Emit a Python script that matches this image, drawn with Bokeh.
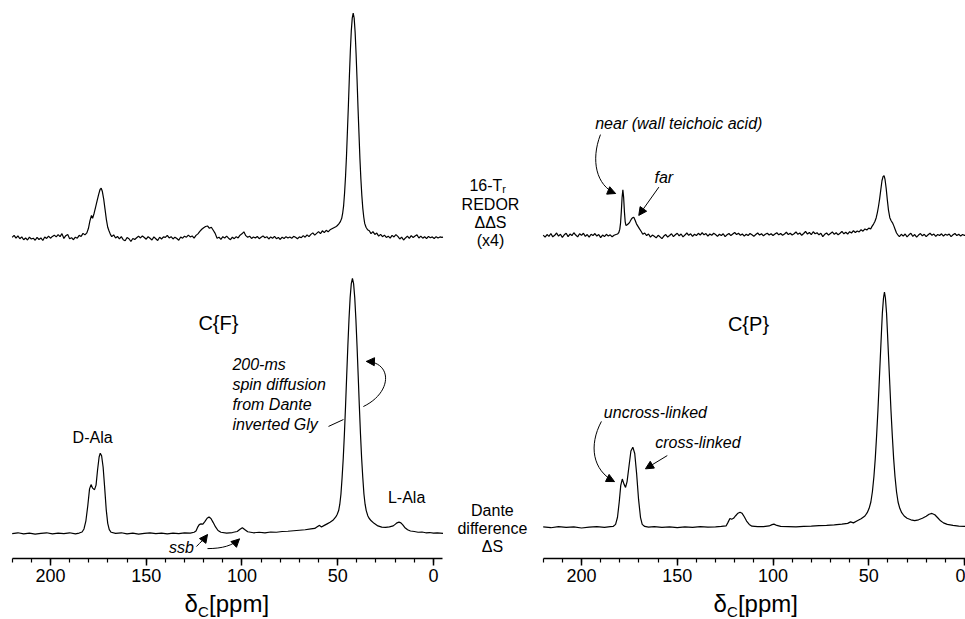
from bokeh.plotting import figure
from bokeh.models import Range1d, FixedTicker, Label, Arrow, NormalHead
from bokeh.layouts import row
from bokeh.embed import file_html
from bokeh.resources import INLINE

# ---------------- data ----------------
# x: chemical shift (ppm); y: intensity (Gly peak of left Dante spectrum = 100)

# C{F}, 16-Tr REDOR difference (x4)
lt_ppm = [220, 219, 218, 217, 216, 215, 214, 213, 212, 211, 210, 209, 208, 207, 206, 205, 204, 203, 202, 201,
          200, 199, 198, 197, 196, 195, 194, 193, 192, 191, 190, 189, 188, 187, 186, 185, 184, 183, 182,
          181, 180.2, 179.4, 178.6, 178.0, 177.2, 176.4, 175.6, 174.8, 174.1, 173.5, 172.9, 172.2, 171.5, 170.8,
          170.1, 169.4, 168.7,
          168, 167, 166, 165, 164, 163, 162, 161, 160, 159, 158, 157, 156, 155, 154, 153, 152, 151, 150, 149,
          148, 147, 146, 145, 144, 143, 142, 141, 140, 139, 138, 137, 136, 135, 134, 133, 132, 131, 130, 129,
          128, 127, 126, 125,
          124, 123, 122, 121, 120, 119, 118, 117, 116, 115, 114, 113, 112, 111, 110, 109, 108, 107, 106, 105,
          104, 103, 102, 101, 100, 99, 98, 97, 96, 95, 94, 93, 92, 91, 90, 89, 88, 87, 86, 85, 84, 83, 82, 81,
          80, 79, 78, 77, 76, 75, 74, 73, 72, 71, 70, 69, 68, 67, 66, 65, 64, 63, 62, 61, 60, 59, 58, 57, 56,
          55, 54, 53, 52, 51,
          50.3, 49.5, 48.6, 47.9, 47.4, 46.9, 46.4, 45.9, 45.4, 44.9, 44.4, 43.9, 43.4, 42.9, 42.4, 41.9, 41.4,
          40.9, 40.4, 39.9, 39.4, 38.9, 38.4, 37.9, 37.4, 36.9, 36.4, 35.9, 35.2, 34.4, 33.5, 32.6,
          31.6, 30.6, 29.6, 28.6, 27.6, 26.6, 25.6, 24.6, 23.6, 22.6, 21.6, 20.6, 19.6, 18.6, 17.6, 16.6, 15.6,
          14.6, 13.6, 12.6, 11.6, 10.6, 9.6, 8.6, 7.6, 6.6, 5.6, 4.6, 3.6, 2.6, 1.6, 0.6, -0.4, -1.4, -2.4,
          -3.4, -4.4, -5]
lt_int = [0.0, 0.8, -0.3, 0.6, -0.5, 0.2, -0.9, -0.2, -1.0, 0.1, -0.6, -0.3, -1.1, 0.0, -0.8, -0.2, -1.2, 0.2, -0.4, 0.5,
          -0.3, 0.4, 0.9, 0.2, 1.1, 0.3, 1.5, -0.4, 0.7, 1.2, -0.5, -0.1, -0.9, 0.1, -0.3, 0.8, 0.4, 1.6, 1.0,
          1.8, 3.5, 6.5, 8.6, 7.5, 9.5, 12, 14.5, 17, 18.8, 19.3, 18, 15, 11, 7,
          4, 2.5, 1.2,
          0.3, 1.0, -0.2, 0.4, -0.6, 0.3, -0.9, -1.3, 0.0, -0.5, -1.6, -0.4, -0.8, -0.1, 0.5, -0.2, 0.6, 0.0, -0.7, 0.3,
          -0.3, -1.0, 0.2, -0.5, -1.2, 0.1, -0.6, 0.2, 0.0, 0.8, -0.2, 0.3, -0.6, 0.1, -0.4, -1.1, 0.2, -0.3, 0.5, 0.1,
          0.9, 0.2, 0.6, -0.3,
          0.8, 1.4, 2.4, 3.2, 3.8, 4.3, 4.5, 3.6, 4.0, 2.8, 1.6, -0.3, 0.1, -0.8, 0.3, -0.2, 0.5, -0.3, -0.9, 0.1,
          -0.5, 0.3, -0.2, 0.9, 1.4, 2.2, 0.7, 0.1, 0.5, -0.4, 0.2, -0.2, 0.4, -0.5, 0.1, 0.6, -0.1, 0.3, -0.6, 0.2, -0.3, 0.4, -0.5, 0.0,
          -0.8, 0.1, -0.4, 0.3, -0.2, 0.2, -0.3, 0.4, 0.1, -0.5, 0.2, -0.1, 0.7, 0.1, 1.0, 0.3, 1.2, 1.8, 0.9, 1.6, 2.3, 1.5, 2.6, 1.9, 2.8,
          2.2, 3.0, 3.4, 3.8, 4.2,
          4.6, 5.2, 6.2, 7.5, 9.5, 12.5, 17.5, 24, 32, 42, 52, 63, 73, 81, 86, 88, 86,
          80.5, 72, 62, 51, 41, 31, 23, 16.5, 11.5, 8, 5.5, 4, 3, 2.6, 1.5,
          2.3, 1.2, 1.7, 0.5, 1.2, 0.3, 0.9, 0.0, 0.5, -0.3, 0.8, 0.2, 1.1, 0.4, -0.6, 0.1, -1.0,
          -0.2, 0.5, -0.4, 0.7, 0.0, 0.6, 1.0, -0.2, 0.5, -0.3, 0.3, -0.5, 0.4, -0.1, 0.2, -0.4, 0.3, -0.2,
          0.2, 0.0, 0.1]

# C{F}, Dante difference
lb_ppm = [220, 217, 214, 211, 208, 205, 202, 199, 196, 193, 190, 187, 185, 183.5, 182.5, 181.5, 180.5, 179.6,
          178.8, 178.0, 177.0, 176.2, 175.4, 174.6, 174.0, 173.3, 172.5, 171.7, 170.9, 170.1, 169.3, 168.3,
          166, 163, 160, 157, 154, 151, 148, 145, 142, 139, 136, 133, 130, 127, 125, 124, 123.2, 122.3, 121.4,
          120.4, 119.3, 118.2, 117.2, 116.2, 115.0, 113.8, 112.5, 111, 108, 105, 102.5, 101, 99.8, 98.6, 97,
          94, 91, 88, 85, 82, 79, 76, 73, 70, 67, 64, 62, 60.5, 59.5, 58.5, 57, 55.5, 54, 52.5, 51.0, 50.3,
          49.5, 48.9, 48.3, 47.7, 47.1, 46.5, 45.9, 45.3, 44.7, 44.1, 43.5, 42.9, 42.3, 41.7, 41.1, 40.5,
          39.9, 39.3, 38.7, 38.1, 37.5, 36.9, 36.3, 35.7, 35.1, 34.3, 33.6, 32.5, 31, 29, 27, 25, 23, 21,
          20, 19, 18, 17, 16, 15, 13.5, 12, 10, 8, 6, 4, 2, 0, -2, -5]
lb_int = [0.0, 0.3, -0.1, 0.2, -0.2, 0.1, 0.3, -0.1, 0.2, 0.0, 0.3, -0.1, 0.2, 0.6, 1.8, 5, 11, 17.5,
          19.2, 17.8, 17.2, 19, 25, 30, 31.5, 30.5, 26, 18, 9.5, 4, 1.5, 0.5,
          0.1, 0.3, -0.1, 0.2, -0.2, 0.1, 0.3, 0.0, 0.2, -0.1, 0.2, 0.0, 0.3, 0.2, 0.5, 1.0, 2.4, 3.5, 3.8,
          3.7, 4.8, 6.0, 6.5, 5.9, 4.3, 2.6, 1.2, 0.5, 0.2, 0.4, 0.8, 1.7, 2.3, 1.6, 0.7,
          0.3, 0.5, 0.3, 0.6, 0.5, 0.8, 0.9, 1.1, 1.3, 1.5, 1.8, 2.0, 2.8, 3.2, 2.6, 3.2, 3.8, 4.4, 5.2, 6.5, 7.5,
          9, 11.5, 15.5, 22, 29.5, 39, 50, 62, 73.5, 84, 92.5, 98, 100, 98, 92.5, 84,
          73.5, 62, 50, 39, 29.5, 22, 15.5, 11.5, 9, 7, 6, 5, 4, 3, 2.5, 2.4, 2.6, 3.0,
          3.6, 4.2, 4.5, 4.2, 3.4, 2.4, 1.5, 1.0, 0.8, 0.5, 0.6, 0.3, 0.4, 0.2, 0.3, 0.1]

# C{P}, 16-Tr REDOR difference (x4)
rt_ppm = [220, 219, 218, 217, 216, 215, 214, 213, 212, 211, 210, 209, 208, 207, 206, 205, 204, 203, 202, 201,
          200, 199, 198, 197, 196, 195, 194, 193, 192, 191, 190, 189, 188, 187, 186, 185, 184, 183, 182,
          181.2, 180.5, 180.0, 179.6, 179.2, 178.8, 178.4, 178.0, 177.6, 177.2, 176.8, 176.2, 175.5, 174.8,
          174.0, 173.3, 172.7, 172.0, 171.3, 170.5, 169.7, 168.8, 168.0,
          167, 166, 165, 164, 163, 162, 161, 160, 159, 158, 157, 156, 155, 154, 153, 152, 151, 150, 149, 148,
          147, 146, 145, 144, 143, 142, 141, 140, 139, 138, 137, 136, 135, 134, 133, 132, 131, 130, 129, 128,
          127, 126, 125, 124, 123, 122, 121, 120, 119, 118, 117, 116, 115, 114, 113, 112, 111, 110, 109, 108,
          107, 106, 105, 104, 103, 102, 101, 100, 99, 98, 97, 96, 95, 94, 93, 92, 91, 90, 89, 88, 87, 86, 85,
          84, 83, 82, 81, 80, 79, 78, 77, 76, 75, 74, 73, 72, 71, 70, 69, 68, 67, 66, 65, 64, 63, 62, 61, 60,
          59, 58, 57, 56, 55, 54, 53, 52, 51, 50, 49,
          48.3, 47.5, 46.8, 46.1, 45.5, 44.9, 44.3, 43.7, 43.1, 42.5, 42.0, 41.5, 40.9, 40.3, 39.7, 39.0,
          38.3, 37.6, 36.9, 36.2, 35.5, 34.7,
          34, 33, 32, 31, 30, 29, 28, 27, 26, 25, 24, 23, 22, 21, 20, 19, 18, 17, 16, 15, 14, 13, 12, 11, 10,
          9, 8, 7, 6, 5, 4, 3, 2, 1, 0, -1, -2, -3, -4, -5]
rt_int = [0.2, -0.6, 0.4, -0.3, 0.8, -0.5, 0.1, 1.0, -0.2, 0.5, -0.7, 0.3, 0.9, -0.4, 0.6, 0.0, 1.1, 0.2, -0.5, 0.7,
          0.1, 0.9, -0.3, 0.4, -0.6, 0.5, 0.0, 0.8, -0.2, 0.4, -0.8, 0.2, -0.4, 0.5, -0.2, 0.3, -0.5, 0.1, 0.4,
          0.6, 1.2, 2.5, 5, 9.5, 15, 17.9, 15, 9.5, 5.5, 4.0, 4.2, 4.6, 5.3,
          6.4, 7.0, 7.2, 6.0, 4.6, 3.6, 2.6, 1.6, 0.5,
          1.0, 0.0, 0.6, -0.6, 0.2, -0.3, -0.9, 0.1, -0.5, -1.2, -0.2, 0.4, -0.6, 0.0, 0.7, -0.4, 0.3, 0.9, -0.1, 0.6,
          -0.5, 0.2, 1.0, 0.1, 0.7, -0.3, 0.5, 0.0, 0.9, 0.2, 1.1, 0.3, 0.8, -0.2, 0.6, 0.1, 0.9, 0.4, -0.3, 0.5,
          0.0, 0.7, -0.4, 0.3, 0.8, 0.0, 0.6, 1.2, 0.4, 0.9, 0.1, 0.6, -0.2, 0.5, 0.0, 0.8, 0.3, -0.3, 0.4, 1.0,
          0.2, 0.7, -0.1, 0.5, 0.9, 0.2, 0.7, 0.0, 0.6, 1.1, 0.3, 0.8, 0.1, 0.6, 1.3, 0.4, 0.9, 0.2, 0.7, 1.4, 0.5, 1.0, 0.1,
          0.8, 1.6, 0.6, 1.2, 0.4, 1.5, 0.7, 1.1, 0.3, 0.9, -0.4, 0.5, 1.0, 0.2, 0.8, 1.4, 0.5, 1.1, 0.3, 0.9, 1.6, 0.7, 1.3, 0.6, 1.5,
          1.0, 1.9, 1.2, 1.8, 1.4, 2.3, 1.7, 2.6, 2.2, 2.9, 2.6,
          3.6, 4.5, 5.5, 7.0, 9.0, 11.5, 14.5, 18, 21.5, 23.2, 23.5, 22, 18.5, 14, 10, 7,
          5.8, 5.0, 3.8, 2.4, 1.0, 0.2,
          -0.4, 0.5, -0.2, 0.6, -0.5, 0.3, 0.9, -0.3, 0.4, -0.6, 0.2, 0.8, -0.1, 0.5, -0.4, 0.3, 0.9, 0.1, 0.6, -0.3, 0.4, 0.0, 0.7, -0.2, 0.5,
          0.1, 0.6, -0.4, 0.3, 0.8, 0.0, 0.5, -0.2, 0.4, 0.0, 0.5, -0.3, 0.4, 0.1, 0.3]

# C{P}, Dante difference
rb_ppm = [220, 216, 212, 208, 204, 200, 196, 192, 188, 185, 183.5, 182.2, 181.2, 180.3, 179.5, 178.7, 177.8,
          177.0, 176.2, 175.2, 174.2, 173.2, 172.2, 171.2, 170.2, 169.2, 168.3, 167, 165, 162, 158, 154, 150,
          146, 142, 138, 134, 130, 127, 124.5, 123.5, 122.5, 121.6, 120.6, 119.5, 118.3, 117.2, 116.2, 115.0,
          113.8, 112.4, 111, 108, 105, 102, 100.5, 99.5, 98, 96, 92, 88, 84, 80, 76, 72, 68, 64, 61, 59.5, 58,
          56, 54, 52, 50.8, 49.8, 48.9, 48.1, 47.3, 46.6, 45.9, 45.2, 44.6, 44.0, 43.4, 42.9, 42.3, 41.8, 41.3,
          40.7, 40.2, 39.6, 39.0, 38.4, 37.7, 37.0, 36.3, 35.5, 34.7, 33.8, 32.8, 31.5, 30, 28, 26, 24, 22, 20,
          18.5, 17, 15.5, 14, 12.5, 11, 9, 6, 3, 0, -5]
rb_int = [0.2, -0.1, 0.3, 0.0, 0.2, -0.2, 0.1, 0.3, 0.0, 0.3, 0.4, 1.2, 4, 10, 16.5, 19, 17,
          15.7, 18, 24, 30, 31.5, 29, 21, 11, 4, 1.2, 0.4, 0.1, 0.3, 0.0, 0.2, -0.1,
          0.2, 0.0, 0.3, 0.1, 0.2, 0.4, 0.6, 2.0, 3.5, 3.2, 3.6, 4.6, 5.6, 6.0, 5.6, 4.2,
          2.5, 1.2, 0.5, 0.3, 0.3, 0.6, 1.1, 1.3, 0.8, 0.4, 0.3, 0.2, 0.4, 0.5, 0.7, 0.8, 1.0, 1.3, 1.6, 2.2, 1.8,
          2.6, 3.4, 4.5, 5.8, 7.5, 10, 14, 20, 27, 36, 46, 56, 66, 76, 84, 90, 92.3, 90,
          84, 76, 66, 56, 46, 36, 27, 20, 14, 10, 7.5, 5.8, 4.5, 3.6, 3.0, 2.7, 3.0, 3.6, 4.4,
          5.2, 5.5, 5.0, 3.8, 2.6, 1.8, 1.2, 0.8, 0.5, 0.4, 0.3]

major_ticks = [200, 150, 100, 50, 0]
minor_ticks = [220, 210, 200, 190, 180, 170, 160, 150, 140, 130, 120, 110, 100, 90, 80, 70, 60, 50, 40, 30, 20, 10, 0]
tick_labels = {200: "200", 150: "150", 100: "100", 50: "50", 0: "0"}

# ---------------- styling ----------------
FONT = "Liberation Sans"
TOP_OFFSET_L = 116.1
TOP_OFFSET_R = 114.5


def make_fig(width, x_range, y_range, axis_y, bounds):
    p = figure(width=width, height=619, x_range=x_range, y_range=y_range,
               output_backend="svg", toolbar_location=None, y_axis_location=None,
               min_border_left=0, min_border_right=0, min_border_top=0, min_border_bottom=0)
    p.grid.visible = False
    p.outline_line_color = None
    p.background_fill_color = "white"
    p.border_fill_color = "white"
    ax = p.xaxis[0]
    ax.fixed_location = axis_y
    ax.bounds = bounds
    ax.ticker = FixedTicker(ticks=major_ticks, minor_ticks=minor_ticks)
    ax.major_label_overrides = tick_labels
    ax.axis_line_width = 1.5
    ax.axis_line_color = "black"
    ax.major_tick_line_width = 1.5
    ax.major_tick_line_color = "black"
    ax.minor_tick_line_width = 1.2
    ax.minor_tick_line_color = "black"
    ax.major_tick_out = 7
    ax.major_tick_in = 0
    ax.minor_tick_out = 4
    ax.minor_tick_in = 0
    ax.major_label_text_font = FONT
    ax.major_label_text_font_size = "18px"
    ax.major_label_text_color = "black"
    ax.major_label_standoff = 3
    return p


def lab(p, x, y, text, size="16px", style="normal", align="center", baseline="middle"):
    p.add_layout(Label(x=x, y=y, text=text, text_font=FONT, text_font_size=size,
                       text_font_style=style, text_align=align, text_baseline=baseline,
                       text_color="black"))


def straight_arrow(p, xs, ys, xe, ye):
    p.add_layout(Arrow(x_start=xs, y_start=ys, x_end=xe, y_end=ye, line_width=1, line_color="black",
                       end=NormalHead(size=8, fill_color="black", line_color="black", line_width=1)))


def curved_arrow(p, s, c1, c2, e):
    p.bezier(x0=[s[0]], y0=[s[1]], x1=[e[0]], y1=[e[1]], cx0=[c1[0]], cy0=[c1[1]],
             cx1=[c2[0]], cy1=[c2[1]], line_color="black", line_width=1)
    p.add_layout(Arrow(x_start=c2[0], y_start=c2[1], x_end=e[0], y_end=e[1], line_alpha=0,
                       end=NormalHead(size=8, fill_color="black", line_color="black", line_width=1)))


def axis_title(p, xd, xc, xp, yb, yc):
    lab(p, xd, yb, "δ", size="24px", align="left", baseline="alphabetic")
    lab(p, xc, yc, "C", size="15px", align="left", baseline="alphabetic")
    lab(p, xp, yb, "[ppm]", size="24px", align="left", baseline="alphabetic")


# ---------------- left panel: C{F} ----------------
p1 = make_fig(535, Range1d(226.1, -53.3), Range1d(-33.7, 209.0), -9.8, (-4.7, 220))
p1.line(lt_ppm, [v + TOP_OFFSET_L for v in lt_int], line_color="black", line_width=1.2)
p1.line(lb_ppm, lb_int, line_color="black", line_width=1.2)

lab(p1, 112.3, 82.7, "C{F}", size="20px")
lab(p1, 178.0, 37.6, "D-Ala")
lab(p1, 14.0, 14.0, "L-Ala")
for yy, t in zip([66.3, 58.4, 50.6, 42.7], ["200-ms", "spin diffusion", "from Dante", "inverted Gly"]):
    lab(p1, 105.0, yy, t, style="italic", align="left")
p1.segment(x0=[54.8], y0=[42.0], x1=[47.0], y1=[44.7], line_color="black", line_width=1)
curved_arrow(p1, (36.6, 49.8), (21.4, 55.3), (21.4, 67.1), (35.0, 67.5))
lab(p1, 131.6, -5.5, "ssb", style="italic")
curved_arrow(p1, (123.8, -5.1), (121.7, -3.5), (119.6, -2.0), (118.0, -0.4))
curved_arrow(p1, (118.0, -5.9), (110.2, -5.9), (104.9, -4.7), (101.3, -2.1))

# centre labels (between panels)
lab(p1, -36.0, 136.5, "16-T", align="right")
lab(p1, -36.0, 134.9, "r", size="11px", align="left")
lab(p1, -29.8, 129.0, "REDOR")
lab(p1, -29.8, 122.0, "ΔΔS")
lab(p1, -29.8, 114.9, "(x4)")
lab(p1, -30.8, 9.0, "Dante")
lab(p1, -30.8, 2.0, "difference")
lab(p1, -30.8, -5.1, "ΔS")

axis_title(p1, 130.0, 123.0, 117.2, -27.5, -30.6)

# ---------------- right panel: C{P} ----------------
p2 = make_fig(430, Range1d(224.02, -0.52), Range1d(-36.1, 206.7), -12.2, (-5, 220))
p2.line(rt_ppm, [v + TOP_OFFSET_R for v in rt_int], line_color="black", line_width=1.2)
p2.line(rb_ppm, rb_int, line_color="black", line_width=1.2)

lab(p2, 112.8, 80.0, "C{P}", size="20px")
lab(p2, 149.2, 158.3, "near (wall teichoic acid)", style="italic")
curved_arrow(p2, (190.1, 154.1), (195.3, 143.9), (192.2, 134.1), (182.2, 131.0))
lab(p2, 157.0, 137.4, "far", style="italic")
straight_arrow(p2, 159.6, 133.5, 170.1, 122.4)
lab(p2, 161.4, 45.2, "uncross-linked", style="italic")
curved_arrow(p2, (189.6, 41.6), (196.3, 32.2), (194.3, 22.4), (182.8, 18.0))
lab(p2, 139.2, 33.5, "cross-linked", style="italic")
straight_arrow(p2, 155.2, 28.2, 166.6, 23.0)

axis_title(p2, 131.1, 124.0, 118.3, -29.8, -32.9)

layout = row(p1, p2)
open("out.html", "w").write(file_html(layout, INLINE))
